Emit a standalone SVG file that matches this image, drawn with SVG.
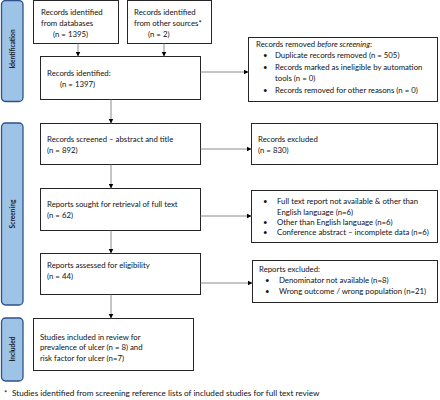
<svg xmlns="http://www.w3.org/2000/svg" width="440" height="400" viewBox="0 0 440 400">
<defs>
<marker id="ah" markerUnits="userSpaceOnUse" markerWidth="6" markerHeight="6" refX="5" refY="3" orient="auto">
<path d="M0,0.5 L5,3 L0,5.5 Z" fill="#000"/>
</marker>
<style>
.box{fill:#fff;stroke:#262626;stroke-width:1}
.bar{fill:#9dc3e6;stroke:#2f528f;stroke-width:1.3}
.t{font-family:Lato,"Liberation Sans",sans-serif;font-size:7.8px;fill:#111}
.bl{font-family:Lato,"Liberation Sans",sans-serif;font-size:6.6px;font-weight:bold;fill:#1a1a1a}
.c{stroke:#808080;stroke-width:0.9;fill:none;marker-end:url(#ah)}
</style>
</defs>
<rect width="440" height="400" fill="#fff"/>
<g id="bar-identification"><rect class="bar" x="1.5" y="0.5" width="21.5" height="101" rx="4"/><text class="bl" transform="translate(14.8,49) rotate(-90)" text-anchor="middle">Identification</text></g>
<g id="bar-screening"><rect class="bar" x="1.5" y="123" width="21.5" height="182" rx="4"/><text class="bl" transform="translate(14.8,214) rotate(-90)" text-anchor="middle">Screening</text></g>
<g id="bar-included"><rect class="bar" x="1.5" y="318" width="21.5" height="63" rx="4"/><text class="bl" transform="translate(14.8,349) rotate(-90)" text-anchor="middle">Included</text></g>

<g id="n-databases"><rect class="box" x="33.5" y="0.5" width="85" height="43"/><text class="t" x="41" y="15">Records identified</text><text class="t" x="41" y="26">from databases</text><text class="t" x="53" y="37">(n = 1395)</text></g>
<g id="n-other"><rect class="box" x="127.5" y="0.5" width="84" height="43"/><text class="t" x="134" y="15">Records identified</text><text class="t" x="134" y="26">from other sources*</text><text class="t" x="148" y="37">(n = 2)</text></g>
<g id="n-identified"><rect class="box" x="40.5" y="56.5" width="160" height="43"/><text class="t" x="47" y="76">Records identified:</text><text class="t" x="60" y="87">(n = 1397)</text></g>
<g id="n-removed"><rect class="box" x="248.5" y="37.5" width="189" height="64"/>
<text class="t" x="256" y="46.5">Records removed <tspan font-style="italic">before screening</tspan>:</text>
<text class="t" x="263" y="58">•</text><text class="t" x="275" y="58">Duplicate records removed (n = 505)</text>
<text class="t" x="263" y="69.5">•</text><text class="t" x="275" y="69.5">Records marked as ineligible by automation</text>
<text class="t" x="275" y="81">tools (n = 0)</text>
<text class="t" x="263" y="92.5">•</text><text class="t" x="275" y="92.5">Records removed for other reasons (n = 0)</text></g>
<g id="n-screened"><rect class="box" x="40.5" y="123.5" width="160" height="41"/><text class="t" x="47" y="141.5">Records screened – abstract and title</text><text class="t" x="47" y="152.5">(n = 892)</text></g>
<g id="n-excluded"><rect class="box" x="251.5" y="123.5" width="186" height="41"/><text class="t" x="258" y="141.5">Records excluded</text><text class="t" x="258" y="152.5">(n = 830)</text></g>
<g id="n-sought"><rect class="box" x="40.5" y="188.5" width="160" height="42"/><text class="t" x="47" y="206.5">Reports sought for retrieval of full text</text><text class="t" x="47" y="217.5">(n = 62)</text></g>
<g id="n-notretrieved"><rect class="box" x="251.5" y="190.5" width="186" height="52"/>
<text class="t" x="263" y="204">•</text><text class="t" x="277" y="204">Full text report not available &amp; other than</text>
<text class="t" x="277" y="214.5">English language (n=6)</text>
<text class="t" x="263" y="225">•</text><text class="t" x="277" y="225">Other than English language (n=6)</text>
<text class="t" x="263" y="234.5">•</text><text class="t" x="277" y="234.5">Conference abstract – incomplete data (n=6)</text></g>
<g id="n-assessed"><rect class="box" x="40.5" y="253.5" width="160" height="41"/><text class="t" x="47" y="267.5">Reports assessed for eligibility</text><text class="t" x="47" y="278.5">(n = 44)</text></g>
<g id="n-reportsexcluded"><rect class="box" x="252.5" y="260.5" width="185" height="42"/>
<text class="t" x="259" y="271.5">Reports excluded:</text>
<text class="t" x="265" y="283">•</text><text class="t" x="279" y="283">Denominator not available (n=8)</text>
<text class="t" x="265" y="294">•</text><text class="t" x="279" y="294">Wrong outcome / wrong population (n=21)</text></g>
<g id="n-included"><rect class="box" x="33.5" y="318.5" width="160" height="52"/><text class="t" x="40" y="339.5">Studies included in review for</text><text class="t" x="40" y="350">prevalence of ulcer (n = 8) and</text><text class="t" x="40" y="360.5">risk factor for ulcer (n=7)</text></g>

<g id="connectors">
<line class="c" x1="78" y1="43.5" x2="78" y2="56.5"/>
<line class="c" x1="164" y1="43.5" x2="164" y2="56.5"/>
<line class="c" x1="111" y1="99.5" x2="111" y2="123.5"/>
<line class="c" x1="111" y1="164.5" x2="111" y2="188.5"/>
<line class="c" x1="111" y1="230.5" x2="111" y2="253.5"/>
<line class="c" x1="111" y1="294.5" x2="111" y2="318.5"/>
<line class="c" x1="200.5" y1="72" x2="248.5" y2="72"/>
<line class="c" x1="200.5" y1="149" x2="251.5" y2="149"/>
<line class="c" x1="200.5" y1="216" x2="251.5" y2="216"/>
<line class="c" x1="200.5" y1="283" x2="252.5" y2="283"/>
</g>
<text class="t" x="4" y="396" font-size="10">*</text><text class="t" x="12" y="396" style="font-size:8.2px">Studies identified from screening reference lists of included studies for full text review</text>
</svg>
